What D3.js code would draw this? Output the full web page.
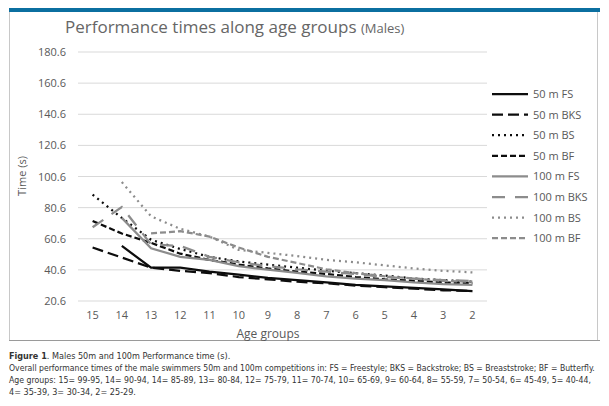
<!DOCTYPE html>
<html>
<head>
<meta charset="utf-8">
<script src="https://cdn.jsdelivr.net/npm/d3@7"></script>
<style>
  body { margin: 0; background: #fff; }
  svg { display: block; }
  text { font-family: "Open Sans", "Liberation Sans", sans-serif; }
  .cap { font-family: "Liberation Sans Narrow", "DejaVu Sans Condensed", "Liberation Sans", sans-serif; font-size: 9px; fill: #333; }
</style>
</head>
<body>
<div id="chart"></div>
<script>
// age group categories, oldest first
const ageGroups = ['15', '14', '13', '12', '11', '10', '9', '8', '7', '6', '5', '4', '3', '2'];
const yTicks = [20.6, 40.6, 60.6, 80.6, 100.6, 120.6, 140.6, 160.6, 180.6];

// times in seconds (null = no value)
const fs50  = [null, 56, 42, 42, 39.5, 37.5, 35.5, 34, 32.5, 31, 30, 29, 28, 27];
const bks50 = [55, 48.5, 42, 40, 38.5, 36, 34.5, 33, 32, 30.5, 29.5, 28.5, 27.5, 27];
const bs50  = [89, 74, 60, 54, 49, 46, 44, 42, 40, 38.5, 37, 35, 34, 33];
const bf50  = [72, 64, 58, 51, 47, 44, 41.5, 39.5, 38, 36, 34.5, 33.5, 32.5, 32];
const fs100  = [null, 74, 54.5, 49, 47, 43, 40.7, 38.7, 36.5, 35, 34, 32.5, 31.5, 31];
const bks100 = [68, 81, 57, 56, 49, 45.5, 43, 41, 39.5, 38, 36, 35, 34, 33.5];
const bs100  = [null, 97, 75, 67, 62, 53.5, 51.5, 49.5, 47, 45.5, 43.5, 41.5, 40, 39];
const bf100  = [null, null, 64, 65.5, 62, 55, 49, 45, 41, 38.5, 36.5, 35, 33.5, 33];

const seriesNames = ['50 m FS', '50 m BKS', '50 m BS', '50 m BF', '100 m FS', '100 m BKS', '100 m BS', '100 m BF'];
const seriesValues = [fs50, bks50, bs50, bf50, fs100, bks100, bs100, bf100];

const BLACK = '#0d0d0d', GREY = '#8c8c8c';
const styles = [
    { color: BLACK, dash: null },
    { color: BLACK, dash: '11 5' },
    { color: BLACK, dash: '2 4' },
    { color: BLACK, dash: '6 3' },
    { color: GREY, dash: null },
    { color: GREY, dash: '13 10' },
    { color: GREY, dash: '2 4' },
    { color: GREY, dash: '6 3' }
];

const width = 609, height = 406;
const svg = d3.select('#chart').append('svg')
    .attr('width', width)
    .attr('height', height);

// frame of the figure panel
svg.append('rect')
    .attr('x', 9.5).attr('y', 11.5)
    .attr('width', 588).attr('height', 329)
    .attr('fill', 'none')
    .attr('stroke', '#c8c8c8');
svg.append('line')
    .attr('x1', 9).attr('x2', 600).attr('y1', 340.5).attr('y2', 340.5)
    .attr('stroke', '#9a9a9a');
svg.append('rect')
    .attr('x', 9).attr('y', 8)
    .attr('width', 591).attr('height', 4)
    .attr('fill', '#0b6fa0');

// title
const title = svg.append('text')
    .attr('x', 65).attr('y', 33)
    .attr('fill', '#666')
    .style('font-size', '17px');
title.append('tspan').text('Performance times along age groups ');
title.append('tspan').style('font-size', '13px').text('(Males)');

const x = d3.scaleBand()
    .domain(ageGroups)
    .range([78, 487])
    .paddingInner(0);
const y = d3.scaleLinear()
    .domain([20.6, 180.6])
    .range([301, 52]);
const cx = d => x(d) + x.bandwidth() / 2;

// grid lines
svg.append('g')
    .selectAll('line')
    .data(yTicks)
    .enter().append('line')
    .attr('x1', 78).attr('x2', 487)
    .attr('y1', d => y(d)).attr('y2', d => y(d))
    .attr('stroke', '#d9d9d9')
    .attr('stroke-width', 1);

// y tick labels
svg.append('g')
    .selectAll('text')
    .data(yTicks)
    .enter().append('text')
    .attr('x', 66)
    .attr('y', d => y(d) + 4)
    .attr('text-anchor', 'end')
    .attr('fill', '#595959')
    .style('font-size', '11px')
    .text(d => d.toFixed(1));

// x tick labels
svg.append('g')
    .selectAll('text')
    .data(ageGroups)
    .enter().append('text')
    .attr('x', d => cx(d))
    .attr('y', 319)
    .attr('text-anchor', 'middle')
    .attr('fill', '#595959')
    .style('font-size', '11px')
    .text(d => d);

svg.append('text')
    .attr('x', 268).attr('y', 338)
    .attr('text-anchor', 'middle')
    .attr('fill', '#595959')
    .style('font-size', '12px')
    .text('Age groups');

svg.append('text')
    .attr('transform', 'translate(26,176) rotate(-90)')
    .attr('text-anchor', 'middle')
    .attr('fill', '#595959')
    .style('font-size', '11px')
    .text('Time (s)');

// series lines
const line = d3.line()
    .defined(d => d.v !== null)
    .x(d => cx(d.age))
    .y(d => y(d.v));

seriesValues.forEach(function (vals, i) {
    const pts = ageGroups.map((a, j) => ({ age: a, v: vals[j] }));
    svg.append('path')
        .datum(pts)
        .attr('d', line)
        .attr('fill', 'none')
        .attr('stroke', styles[i].color)
        .attr('stroke-width', 2.25)
        .attr('stroke-dasharray', styles[i].dash);
});

// legend
const legend = svg.append('g')
    .selectAll('g')
    .data(seriesNames)
    .enter().append('g')
    .attr('transform', (d, i) => 'translate(492,' + (94 + i * 20.6) + ')');

legend.append('line')
    .attr('x1', 0).attr('x2', 36)
    .attr('y1', 0).attr('y2', 0)
    .attr('stroke', (d, i) => styles[i].color)
    .attr('stroke-width', 2.25)
    .attr('stroke-dasharray', (d, i) => styles[i].dash);

legend.append('text')
    .attr('x', 41).attr('y', 4)
    .attr('fill', '#595959')
    .style('font-size', '11px')
    .text(d => d);

// caption under the figure; long lines shrink to fit the panel width
function capLine(yPos, maxW) {
    return svg.append('text').attr('class', 'cap').attr('x', 9).attr('y', yPos);
}
function fitLine(t, maxW) {
    const len = t.node().getComputedTextLength();
    if (len > maxW) t.style('font-size', (9 * maxW / len).toFixed(2) + 'px');
}
const l1 = capLine(359);
l1.append('tspan').style('font-weight', 'bold').text('Figure 1');
l1.append('tspan').text('. Males 50m and 100m Performance time (s).');
const l2 = capLine(371)
    .text('Overall performance times of the male swimmers 50m and 100m competitions in: FS = Freestyle; BKS = Backstroke; BS = Breaststroke; BF = Butterfly.');
fitLine(l2, 586);
const l3 = capLine(383)
    .text('Age groups: 15= 99-95, 14= 90-94, 14= 85-89, 13= 80-84, 12= 75-79, 11= 70-74, 10= 65-69, 9= 60-64, 8= 55-59, 7= 50-54, 6= 45-49, 5= 40-44,');
fitLine(l3, 583);
capLine(395).text('4= 35-39, 3= 30-34, 2= 25-29.');
</script>
</body>
</html>
